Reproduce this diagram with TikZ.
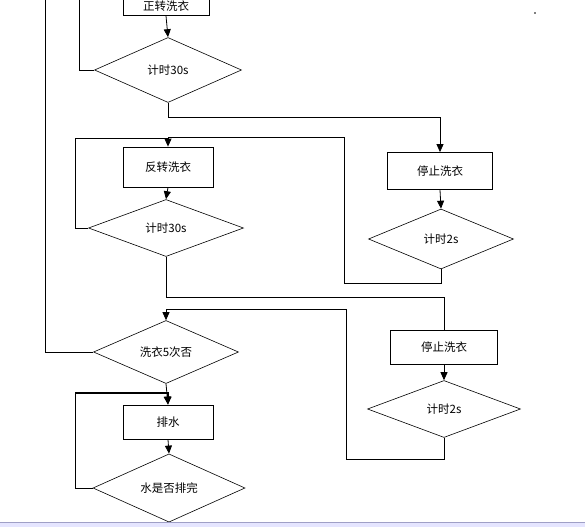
\documentclass[tikz,border=0pt]{standalone}
\usepackage{fontspec}
\newfontfamily\cjk{Noto Sans CJK SC}
\usetikzlibrary{shapes.geometric,arrows.meta}
\begin{document}
\begin{tikzpicture}[x=1pt,y=-1pt, line width=0.8pt, line join=miter, >={Triangle[length=8pt,width=7pt]}]
			\tikzset{every node/.style={font=\cjk\fontsize{11.5}{13}\selectfont, inner sep=0pt},
				box/.style={draw, rectangle, line width=0.8pt},
				test/.style={draw, diamond, line width=0.6pt}}
			\def\W{585}\def\H{527}
			\useasboundingbox (0,0) rectangle (\W,\H);
			\fill[white] (0,0) rectangle (\W,\H);
			\fill[blue!10!white] (0,522) rectangle (\W,\H);
			\draw[blue!25!gray!60, line width=0.6pt] (0,522.3)--(\W,522.3);
			\clip (0,0) rectangle (\W,521.5);
			% left column
			\node[box, minimum width=86pt, minimum height=18pt] (zz) at (166,6.5) {正转洗衣};
			\node[test, minimum width=147pt, minimum height=65pt] (c1) at (168,70) {计时30s};
			\node[box, minimum width=90pt, minimum height=40pt] (fz) at (168,167) {反转洗衣};
			\node[test, minimum width=155pt, minimum height=57pt] (c2) at (166,228) {计时30s};
			\node[test, minimum width=145pt, minimum height=62pt] (c5) at (166,352) {洗衣5次否};
			\node[box, minimum width=90pt, minimum height=34pt] (ps) at (168,422) {排水};
			\node[test, minimum width=152pt, minimum height=63pt] (pw) at (169,488) {水是否排完};
			% right column
			\node[box, minimum width=105pt, minimum height=37pt] (st1) at (440,171) {停止洗衣};
			\node[test, minimum width=145pt, minimum height=60pt] (d1) at (441,239) {计时2s};
			\node[box, minimum width=107pt, minimum height=34pt] (st2) at (444,347) {停止洗衣};
			\node[test, minimum width=153pt, minimum height=57pt] (d2) at (444,409) {计时2s};
			% corners of the loops
			\coordinate (topA) at (79,-5);
			\coordinate (topB) at (45,-5);
			\coordinate (r1) at (344,137);
			\coordinate (r2) at (346,309);
			\coordinate (l1) at (75,138);
			\coordinate (l2) at (75,393);
			% connectors
			\draw[->] (zz.south)--(c1.north);
			\draw (c1.west) -| (topA);
			\draw[->] (c1.south) -- ++(0,15) -| (st1.north);
			\draw[->] (st1.south)--(d1.north);
			\draw (c2.west) -| (l1) -- (l1 -| fz.north);
			\draw[->] (d1.south) -- ++(0,14) -| (r1) -| (fz.north);
			\draw[->] (fz.south)--(c2.north);
			\draw (c2.south) -- ++(0,41) -| (st2.north);
			\draw[->] (st2.south)--(d2.north);
			\draw[->] (d2.south) -- ++(0,22) -| (r2) -| (c5.north);
			\draw (c5.west) -| (topB);
			\draw[->] (c5.south)--(ps.north);
			\draw[->] (ps.south)--(pw.north);
			\draw (pw.west) -| (l2);
			\draw[->, line width=1.3pt] (l2) -- (l2 -| ps.north) -- (ps.north);
			\fill[gray] (534,12) rectangle (536,14);
		\end{tikzpicture}
\end{document}
